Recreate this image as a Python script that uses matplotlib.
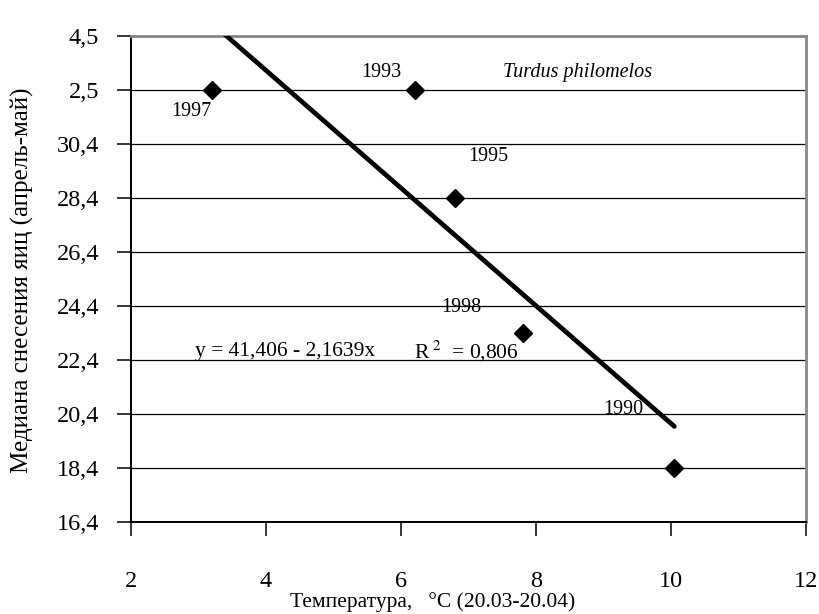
import numpy as np
import matplotlib
matplotlib.use("Agg")
import matplotlib.pyplot as plt

# Данные: температура (20.03-20.04) и медиана снесения яиц
YEARS = ["1997", "1993", "1995", "1998", "1990"]
TEMP = [3.2, 6.2, 6.8, 7.8, 10.05]
MEDIAN = [32.4, 32.4, 28.4, 23.4, 18.4]

X_TICKS = [2, 4, 6, 8, 10, 12]
Y_TICKS = [16.4, 18.4, 20.4, 22.4, 24.4, 26.4, 28.4, 30.4, 32.4, 34.4]
Y_TICK_LABELS = ["16,4", "18,4", "20,4", "22,4", "24,4", "26,4", "28,4", "30,4", "2,5", "4,5"]

# позиции подписей лет (в координатах данных)
LABEL_POS = {"1997": (2.90, 31.6), "1993": (5.70, 33.05), "1995": (7.29, 29.95),
             "1998": (6.89, 24.35), "1990": (9.29, 20.55)}

plt.rcParams["font.family"] = ["Liberation Serif", "DejaVu Serif"]

fig = plt.figure(figsize=(8.2, 6.14), dpi=100)
ax = fig.add_axes([0.1598, 0.1498, 0.8232, 0.7916])

# линия регрессии
slope, intercept = np.polyfit(TEMP, MEDIAN, 1)
xs = np.array([min(TEMP), max(TEMP)])
ax.plot(xs, intercept + slope * xs, color="black", linewidth=3.4,
        solid_capstyle="round", zorder=3)

ax.plot(TEMP, MEDIAN, linestyle="none", marker="D", markersize=9,
        color="black", zorder=4)

for yr in YEARS:
    tx, ty = LABEL_POS[yr]
    ax.text(tx, ty, yr, fontsize=14.5, ha="center", va="center")

ax.text(2.95, 22.7, "y = 41,406 - 2,1639x", fontsize=15.5, ha="left", va="center")
ax.text(6.19, 22.7, r"R$^{\ 2}$  = 0,806", fontsize=15.5, ha="left", va="center",
        math_fontfamily="stix")
ax.text(8.62, 33.05, "Turdus philomelos", fontsize=14.5, style="italic",
        ha="center", va="center")

ax.set_xlim(2, 12)
ax.set_ylim(16.4, 34.4)
ax.set_xticks(X_TICKS)
ax.set_yticks(Y_TICKS)
ax.set_yticklabels(Y_TICK_LABELS)

ax.grid(True, axis="y", color="black", linewidth=0.9)
ax.set_axisbelow(True)

ax.tick_params(axis="both", direction="out", length=10, width=1.1,
               labelsize=17.5, color="black")
ax.tick_params(axis="x", pad=25)
ax.tick_params(axis="y", pad=13)

for side in ["left", "bottom"]:
    ax.spines[side].set_color("black")
    ax.spines[side].set_linewidth(1.4)
for side in ["top", "right"]:
    ax.spines[side].set_color("#888888")
    ax.spines[side].set_linewidth(2.0)

fig.text(0.027, 0.544, "Медиана снесения яиц (апрель-май)", fontsize=18,
         rotation=90, ha="center", va="center")
fig.text(0.527, 0.0195, "Температура,   °C (20.03-20.04)", fontsize=15.5,
         ha="center", va="center")

fig.savefig("out.png", dpi=100)
